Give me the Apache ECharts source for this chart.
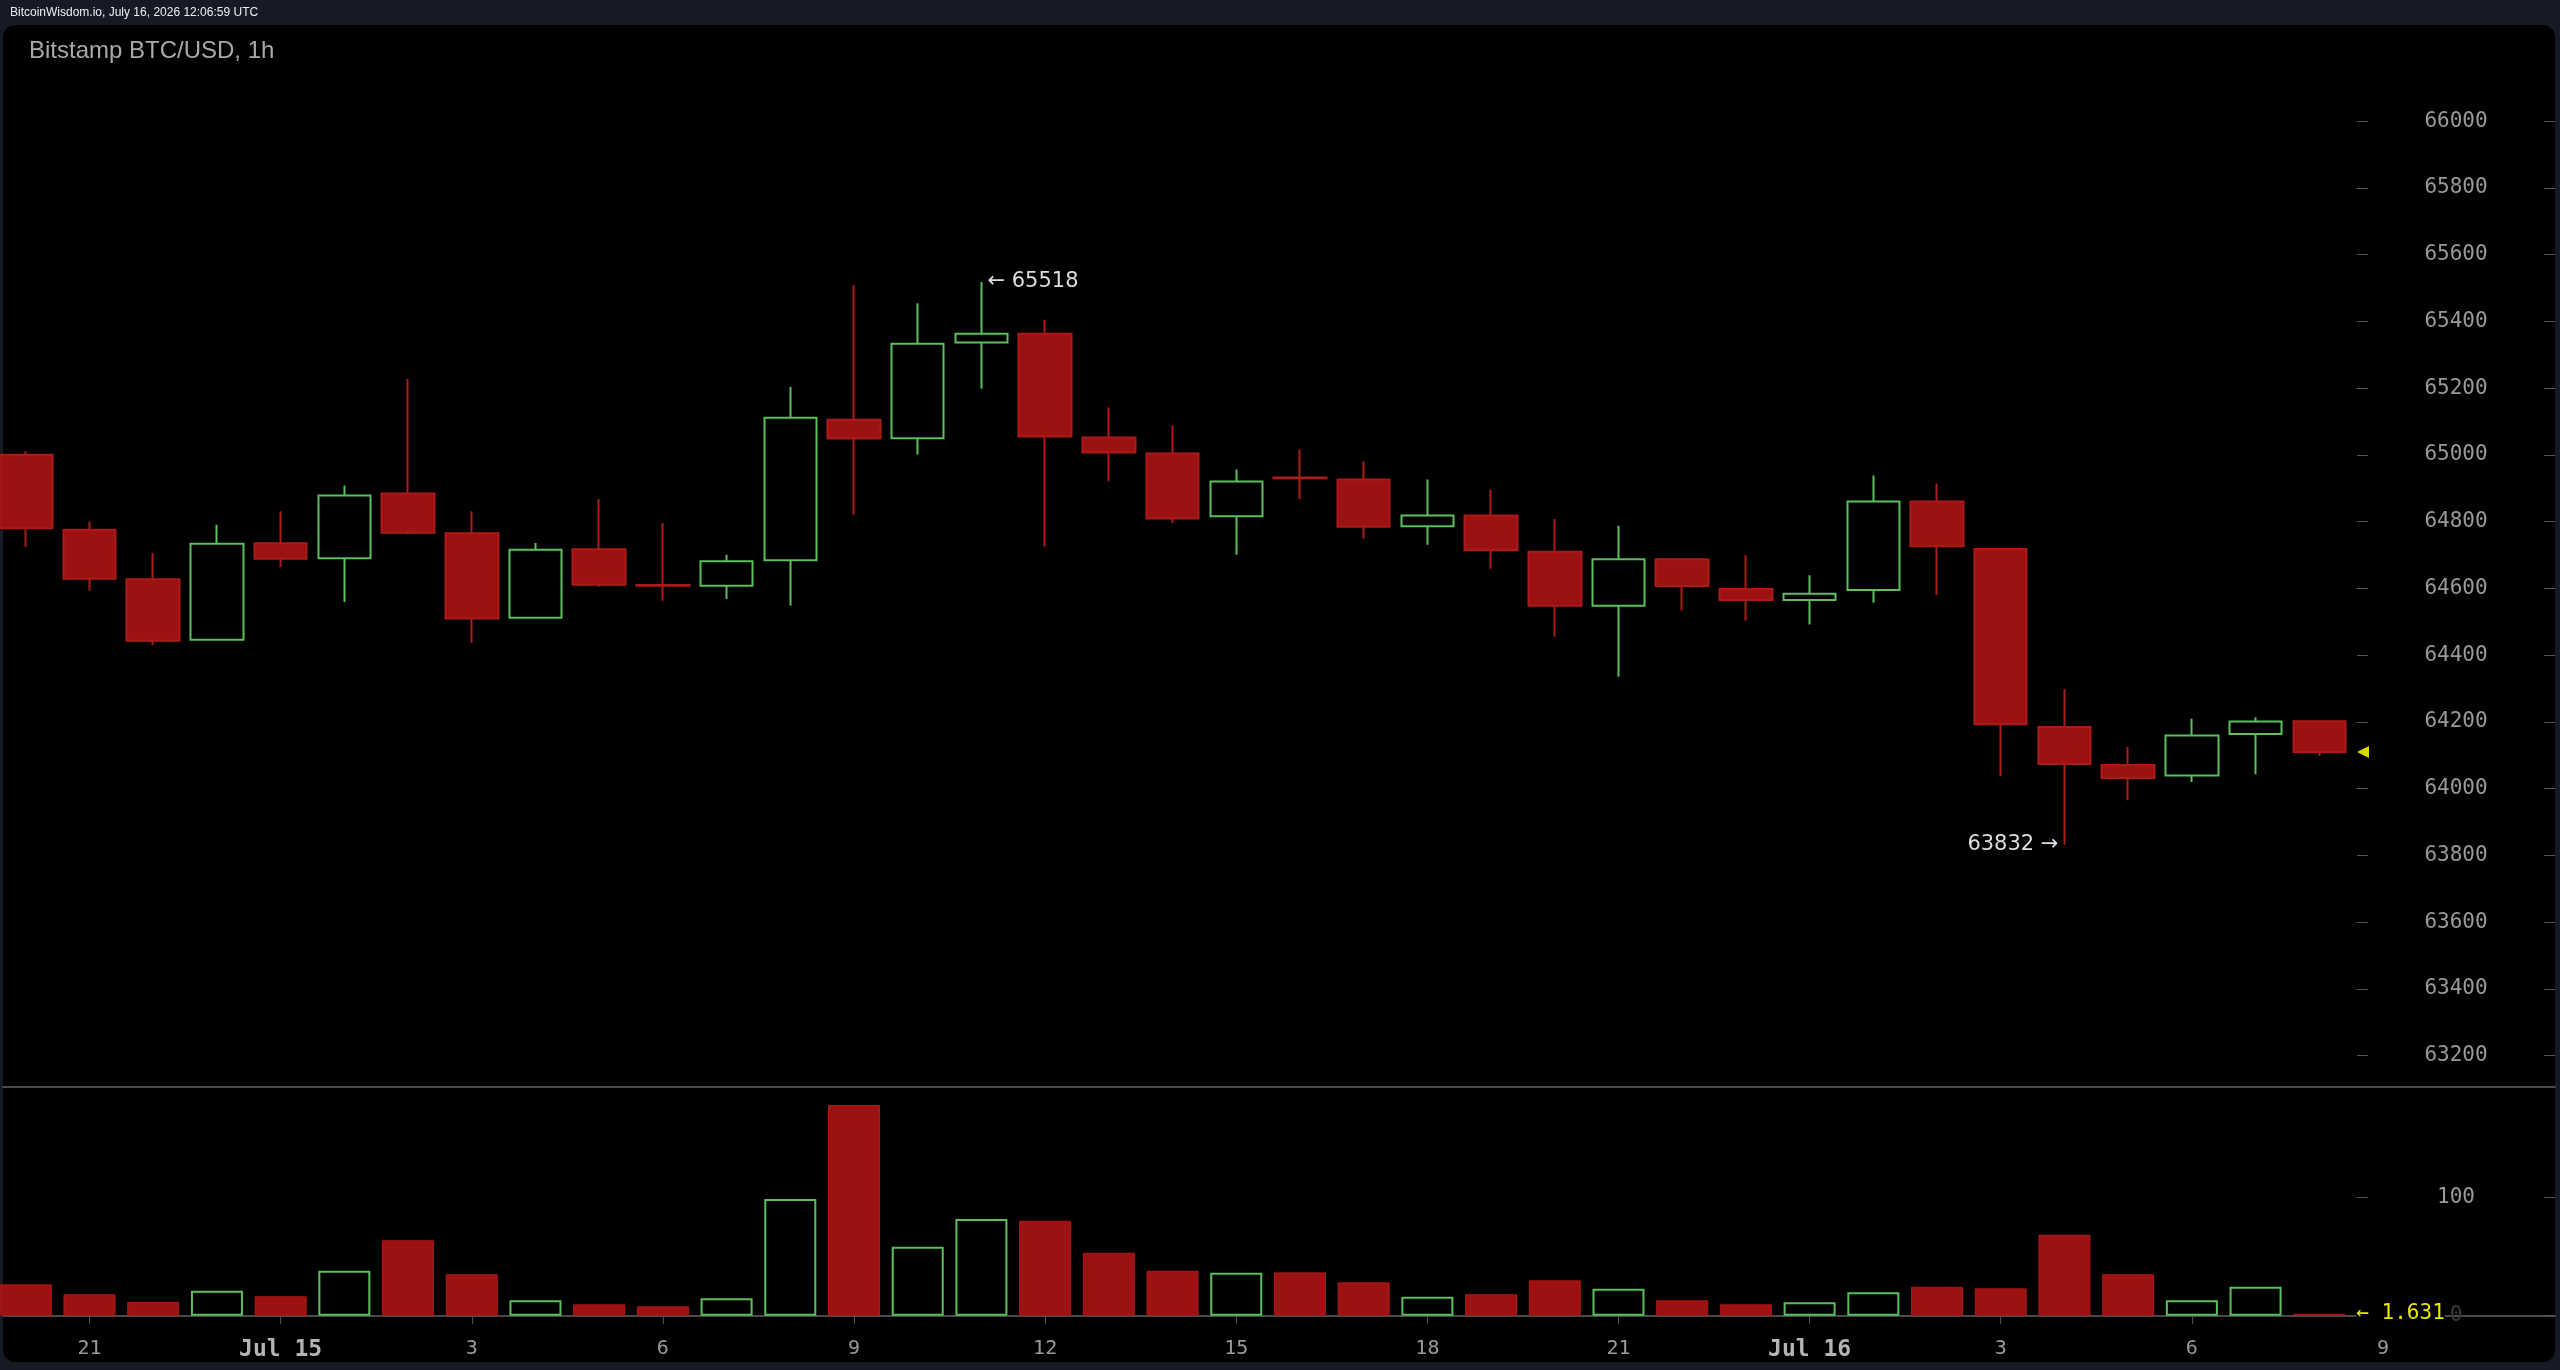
<!DOCTYPE html>
<html>
<head>
<meta charset="utf-8">
<title>Bitstamp BTC/USD, 1h</title>
<script src="https://cdn.jsdelivr.net/npm/echarts@6/dist/echarts.min.js"></script>
<style>
html, body { margin: 0; padding: 0; background: #161a25; }
#panel { position: absolute; left: 3px; top: 25px; width: 2552px; height: 1337px; background: #000; border-radius: 12px; }
#chart { position: absolute; left: 0; top: 0; width: 2560px; height: 1370px; }
</style>
</head>
<body>
<div id="panel"></div>
<div id="chart"></div>
<script>
// hours counted from Jul 14 00:00 UTC, one candle per hour
var hours = [20, 21, 22, 23, 24, 25, 26, 27, 28, 29, 30, 31, 32, 33, 34, 35, 36, 37, 38,
             39, 40, 41, 42, 43, 44, 45, 46, 47, 48, 49, 50, 51, 52, 53, 54, 55, 56];

var opens  = [65000, 64776, 64627, 64446, 64735, 64690, 64884, 64765, 64512, 64717, 64610, 64608, 64684,
              65105, 65050, 65337, 65363, 65052, 65004, 64816, 64932, 64926, 64786, 64818, 64710, 64548,
              64687, 64598, 64565, 64595, 64860, 64718, 64185, 64071, 64039, 64164, 64202];
var closes = [64780, 64629, 64443, 64734, 64689, 64878, 64767, 64510, 64716, 64611, 64608, 64681, 65111,
              65049, 65333, 65363, 65055, 65007, 64809, 64920, 64930, 64785, 64818, 64714, 64548, 64687,
              64607, 64565, 64584, 64860, 64726, 64193, 64074, 64032, 64159, 64201, 64110];
var highs  = [65010, 64800, 64706, 64791, 64831, 64908, 65227, 64831, 64736, 64868, 64796, 64701, 65203,
              65509, 65454, 65518, 65405, 65142, 65089, 64956, 65017, 64981, 64926, 64896, 64808, 64788,
              64690, 64699, 64639, 64938, 64914, 64721, 64298, 64125, 64209, 64214, 64205];
var lows   = [64725, 64593, 64430, 64444, 64663, 64559, 64762, 64437, 64510, 64605, 64563, 64568, 64549,
              64821, 65001, 65198, 64725, 64921, 64796, 64701, 64868, 64749, 64731, 64659, 64455, 64335,
              64534, 64504, 64492, 64557, 64581, 64038, 63832, 63965, 64020, 64043, 64098];
var volumes = [26.5, 18.1, 11.6, 21.1, 16.4, 38.0, 63.7, 35.0, 13.0, 9.6, 7.9, 14.7, 98.6,
               178, 58.3, 81.7, 80.2, 53.2, 38.0, 36.3, 36.6, 28.2, 16.1, 18.1, 29.9, 22.8,
               13.0, 9.6, 11.3, 19.8, 24.5, 23.1, 68.4, 35.0, 13.0, 24.5, 1.631];

// tick positions
var priceTicks = [63200, 63400, 63600, 63800, 64000, 64200, 64400, 64600, 64800,
                  65000, 65200, 65400, 65600, 65800, 66000];
var volumeTicks = [0, 100];
var hourTicks = [21, 24, 27, 30, 33, 36, 39, 42, 45, 48, 51, 54, 57];

var UP = '#5cbf5c';
var DOWN = '#9c1111';
var DOWN_EDGE = '#ad1a1a';
var MONO = 'DejaVu Sans Mono';

var last = hours.length - 1;
var candles = hours.map(function (h, i) {
  return [h, opens[i], closes[i], lows[i], highs[i]];
});
var volBars = hours.map(function (h, i) {
  var up = closes[i] > opens[i];
  return {
    value: [h, volumes[i]],
    itemStyle: up
      ? { color: 'rgba(0,0,0,0)', borderColor: UP, borderWidth: 2 }
      : { color: DOWN, borderColor: DOWN_EDGE, borderWidth: 1 }
  };
});

function hourLabel(v) {
  var h = Math.round(v);
  if (h % 24 === 0) return '{d|Jul ' + (14 + h / 24) + '}';
  return String(h % 24);
}

var xMin = 19.642, xMax = 59.70;
var pMin = 63106, pMax = 66288;
var vMin = -14.6, vMax = 193.2;

// the small dashes left of the price labels
function dashAxis(grid, min, max, ticks) {
  return {
    type: 'value', gridIndex: grid, position: 'right', offset: -187,
    min: min, max: max,
    axisLine: { show: false },
    axisTick: { show: true, inside: true, length: 11, customValues: ticks, lineStyle: { color: '#555', width: 1 } },
    axisLabel: { show: false },
    splitLine: { show: false }
  };
}

var chart = echarts.init(document.getElementById('chart'));
chart.setOption({
  animation: false,
  backgroundColor: 'transparent',
  title: [
    {
      text: 'BitcoinWisdom.io, July 16, 2026 12:06:59 UTC',
      left: 10, top: 7, padding: 0,
      textStyle: { color: '#eeeeee', fontSize: 12, fontWeight: 'normal', fontFamily: 'Liberation Sans' }
    },
    {
      text: 'Bitstamp BTC/USD, 1h',
      left: 29, top: 39, padding: 0,
      textStyle: { color: '#a9a9a9', fontSize: 24, fontWeight: 'normal', fontFamily: 'Liberation Sans' }
    }
  ],
  grid: [
    { left: 3, right: 5, top: 25, height: 1062 },
    { left: 3, right: 5, top: 1087, height: 246 }
  ],
  xAxis: [
    {
      type: 'value', gridIndex: 0, min: xMin, max: xMax,
      axisLine: { show: true, lineStyle: { color: '#4a4a4a', width: 2 } },
      axisTick: { show: false }, axisLabel: { show: false }, splitLine: { show: false }
    },
    {
      type: 'value', gridIndex: 1, min: xMin, max: xMax,
      axisLine: { show: true, lineStyle: { color: '#4a4a4a', width: 2 } },
      axisTick: { show: true, length: 8, customValues: hourTicks, lineStyle: { color: '#555' } },
      axisLabel: {
        show: true, margin: 6, color: '#9a9a9a', fontSize: 20, fontFamily: MONO,
        customValues: hourTicks,
        formatter: hourLabel,
        rich: { d: { color: '#b4b4b4', fontSize: 23, fontWeight: 'bold', fontFamily: MONO } }
      },
      splitLine: { show: false }
    }
  ],
  yAxis: [
    {
      type: 'value', gridIndex: 0, position: 'right', min: pMin, max: pMax,
      axisLine: { show: false },
      axisTick: { show: true, inside: true, length: 11, customValues: priceTicks, lineStyle: { color: '#555', width: 1 } },
      axisLabel: {
        inside: true, margin: 99, align: 'center', color: '#999', fontSize: 21, fontFamily: MONO,
        customValues: priceTicks,
        formatter: function (v) { return String(v); }
      },
      splitLine: { show: false }
    },
    dashAxis(0, pMin, pMax, priceTicks),
    {
      type: 'value', gridIndex: 1, position: 'right', min: vMin, max: vMax,
      axisLine: { show: false },
      axisTick: { show: true, inside: true, length: 11, customValues: volumeTicks, lineStyle: { color: '#555', width: 1 } },
      axisLabel: {
        inside: true, margin: 99, align: 'center', fontSize: 21, fontFamily: MONO,
        customValues: volumeTicks,
        formatter: function (v) { return String(v); },
        color: function (v) { return Number(v) === 0 ? '#3a3a3a' : '#999'; }
      },
      splitLine: { show: false }
    },
    dashAxis(1, vMin, vMax, [volumeTicks[1]])
  ],
  series: [
    {
      name: 'BTC/USD',
      type: 'candlestick',
      xAxisIndex: 0, yAxisIndex: 0,
      encode: { x: 0, y: [1, 2, 3, 4] },
      data: candles,
      barWidth: 53,
      itemStyle: {
        color: 'rgba(0,0,0,0)', color0: DOWN,
        borderColor: UP, borderColor0: DOWN_EDGE, borderWidth: 2
      },
      markPoint: {
        symbol: 'circle', symbolSize: 0,
        label: { show: true, color: '#dddddd', fontSize: 21, fontFamily: 'DejaVu Sans' },
        data: [
          { coord: [hours[15], highs[15]], label: { position: 'right', distance: 6, formatter: '\u2190 ' + highs[15] } },
          { coord: [hours[32], lows[32]], label: { position: 'left', distance: 6, formatter: lows[32] + ' \u2192' } },
          {
            coord: [56.686, closes[last]], symbol: 'triangle', symbolSize: [12, 12], symbolRotate: 90,
            itemStyle: { color: '#d8d800' }, label: { show: false }
          }
        ]
      }
    },
    {
      name: 'Volume',
      type: 'bar',
      xAxisIndex: 1, yAxisIndex: 2,
      barWidth: 52,
      data: volBars,
      markPoint: {
        symbol: 'circle', symbolSize: 0,
        data: [{
          coord: [hours[last], volumes[last]],
          label: {
            show: true, position: 'right', distance: 37, formatter: '\u2190 ' + volumes[last],
            color: '#e8e800', fontSize: 21, fontFamily: MONO, backgroundColor: '#000'
          }
        }]
      }
    }
  ]
});
</script>
</body>
</html>
